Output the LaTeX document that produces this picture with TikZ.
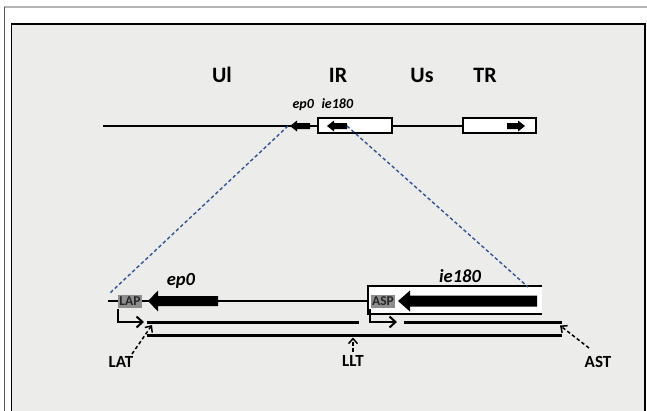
\documentclass[tikz,border=0pt]{standalone}
\usepackage{fontspec}
\setmainfont{Carlito}[BoldFont={Carlito Bold},ItalicFont={Carlito Italic},BoldItalicFont={Carlito Bold Italic}]
\usepackage{tikz}
\usetikzlibrary{arrows.meta}
\usepackage{xcolor}
\definecolor{panel}{HTML}{ECEDEB}
\definecolor{zoomblue}{HTML}{2F5597}
\definecolor{promgray}{HTML}{8E8E8E}

\tikzset{
  dna/.style={line width=2.2pt},
  gene/.style={fill=black},
  region/.style={font=\fontsize{22}{24}\selectfont\bfseries},
  genesmall/.style={font=\fontsize{14}{16}\selectfont\bfseries\itshape},
  genebig/.style={font=\fontsize{18.5}{20}\selectfont\bfseries\itshape},
  promoter/.style={fill=promgray,inner sep=1.5pt,minimum height=13.5pt,font=\fontsize{13.5}{14}\selectfont\bfseries,text=black!85},
  rna/.style={font=\fontsize{17}{18}\selectfont\bfseries},
  zoomline/.style={zoomblue,line width=1.4pt,dash pattern=on 3.5pt off 2.5pt},
  pointer/.style={line width=1.5pt,dash pattern=on 3.5pt off 2.5pt,-{Straight Barb[length=5pt,width=9pt,line width=1.5pt]}},
  startarrow/.style={line width=2pt,-{Straight Barb[length=6pt,width=11pt,line width=2pt]}},
}

\begin{document}
\begin{tikzpicture}[x=1pt,y=-1pt,line cap=butt]
\useasboundingbox (0,0) rectangle (647,410);
\clip (0,0) rectangle (647,410);
\fill[white] (0,0) rectangle (647,410);
\draw[gray!60,line width=2.2pt] (4,7) -- (647,7);
\draw[gray!70!black,line width=1pt] (4,7) -- (4,412);
\draw[fill=panel,line width=1.6pt] (11.5,24) rectangle (645,415);

% genome
\node[region] (ul) at (222,75) {Ul};
\node[region] (ir) at (338,75) {IR};
\node[region] (us) at (422,75) {Us};
\node[region] (tr) at (485,75) {TR};
\node[genesmall,anchor=base west] (ep0s) at (289,108) {ep0};
\node[genesmall,anchor=base west] (ie180s) at (318,108) {ie180};

\draw[dna] (103,126) -- (318,126);
\draw[dna] (392,126) -- (463,126);
\draw[dna,fill=white] (318,118) rectangle (392,133);
\draw[dna,fill=white] (463,118) rectangle (536,133);
\fill[gene] (290,126) -- (297,120.5) -- (297,123) -- (310,123) -- (310,129) -- (297,129) -- (297,131.5) -- cycle;
\fill[gene] (327,126) -- (334,120.5) -- (334,123) -- (347,123) -- (347,129) -- (334,129) -- (334,131.5) -- cycle;
\fill[gene] (525,126) -- (518,120.5) -- (518,123) -- (507,123) -- (507,129) -- (518,129) -- (518,131.5) -- cycle;

\coordinate (ep0top) at (288,126);
\coordinate (ie180top) at (347,126);

% expanded region
\draw[dna] (108,301) -- (368,301);
\fill[white] (368,286) rectangle (542,314);
\draw[dna] (542,286) -- (368,286) -- (368,314) -- (542,314);
\fill[gene] (148,301) -- (158,290.5) -- (158,296) -- (218,296) -- (218,306) -- (158,306) -- (158,311.5) -- cycle;
\fill[gene] (398,301) -- (410,290.5) -- (410,295.5) -- (537,295.5) -- (537,306.5) -- (410,306.5) -- (410,311.5) -- cycle;
\node[promoter] (lap) at (130,301.5) {LAP};
\node[promoter] (asp) at (383,301.5) {ASP};
\node[genebig] (ep0) at (181,281) {ep0};
\node[genebig] (ie180) at (460,276) {ie180};

\coordinate (lapcorner) at (110,293);
\coordinate (aspcorner) at (528,287);
\draw[zoomline] (ep0top) -- (lapcorner);
\draw[zoomline] (ie180top) -- (aspcorner);

% transcripts
\draw[startarrow] (117.5,309) |- (144,322);
\draw[startarrow] (370,309) |- (397,322);
\draw[dna] (147,322.5) -- (359,322.5);
\draw[dna] (404,322.5) -- (562,322.5);
\draw[dna] (147,335.5) -- (562,335.5);

\node[rna] (lat) at (121,362) {LAT};
\node[rna] (llt) at (353,361) {LLT};
\node[rna] (ast) at (598,362) {AST};
\coordinate (latend) at (152,325);
\coordinate (lltend) at (353,337.5);
\coordinate (astend) at (560,325.5);
\draw[pointer] (132,354) -- (latend);
\draw[pointer] (lltend |- llt.north) -- (lltend);
\draw[pointer] (589,348) -- (astend);
\end{tikzpicture}
\end{document}
